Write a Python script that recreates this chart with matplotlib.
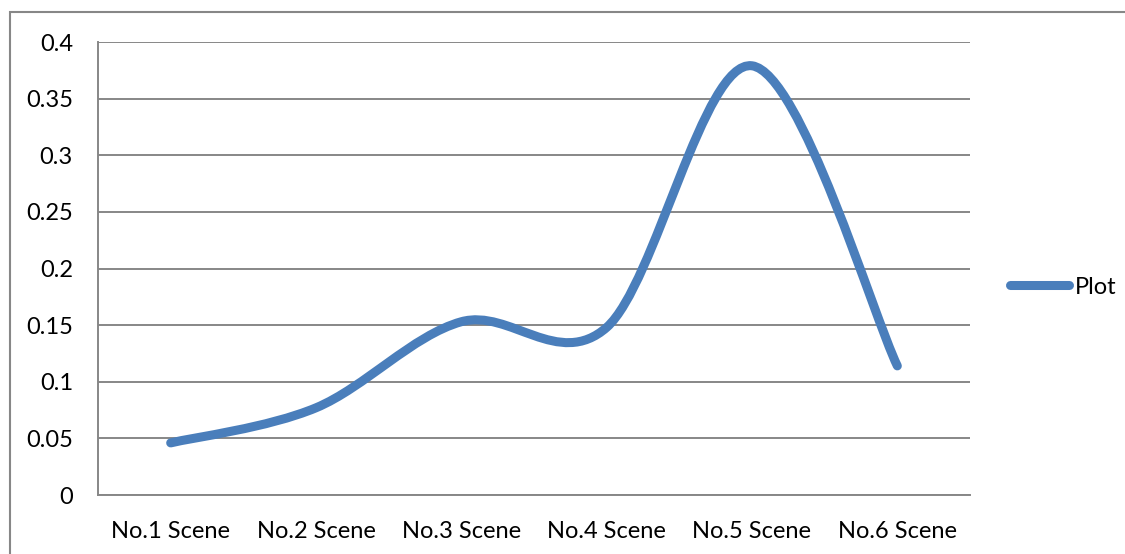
import matplotlib
matplotlib.use('Agg')
import matplotlib.pyplot as plt
import matplotlib.patches as mpatches
from matplotlib.path import Path
from matplotlib.lines import Line2D

plt.rcParams['font.family'] = ['Lato', 'DejaVu Sans']

# ── data ──
scenes = ['No.1 Scene', 'No.2 Scene', 'No.3 Scene', 'No.4 Scene', 'No.5 Scene', 'No.6 Scene']
values = [0.046, 0.077, 0.153, 0.148, 0.379, 0.114]
yticks = [0, 0.05, 0.1, 0.15, 0.2, 0.25, 0.3, 0.35, 0.4]
ytick_labels = ['0', '0.05', '0.1', '0.15', '0.2', '0.25', '0.3', '0.35', '0.4']

BLUE = '#4A7EBB'
GRID = '#878787'

fig = plt.figure(figsize=(11.25, 5.54), dpi=100)
ax = fig.add_axes([98/1125, 59/554, 872/1125, 453/554])

# outer chart border (runs off right/bottom like the screenshot)
fig.patches.append(mpatches.Rectangle((10/1125, -0.05), 1.2, (554-12)/554 + 0.05,
                                      transform=fig.transFigure, fill=False,
                                      edgecolor=GRID, linewidth=1.5))

# smoothed line, excel-style bezier through the points
xs = list(range(len(values)))
pts = list(zip(xs, values))
verts = [pts[0]]
codes = [Path.MOVETO]
for i in range(len(pts) - 1):
    p0 = pts[i - 1] if i > 0 else pts[i]
    p1 = pts[i]
    p2 = pts[i + 1]
    p3 = pts[i + 2] if i + 2 < len(pts) else pts[i + 1]
    c1 = (p1[0] + (p2[0] - p0[0]) / 6, p1[1] + (p2[1] - p0[1]) / 6)
    c2 = (p2[0] - (p3[0] - p1[0]) / 6, p2[1] - (p3[1] - p1[1]) / 6)
    verts += [c1, c2, p2]
    codes += [Path.CURVE4] * 3
curve = mpatches.PathPatch(Path(verts, codes), fill=False, edgecolor=BLUE,
                           linewidth=6.5, capstyle='round', joinstyle='round', zorder=3)
ax.add_patch(curve)

ax.set_xlim(-0.5, len(values) - 0.5)
ax.set_ylim(0, 0.4)
ax.set_xticks(xs)
ax.set_xticklabels(scenes)
ax.set_yticks(yticks)
ax.set_yticklabels(ytick_labels)
ax.tick_params(length=0, labelsize=17)
ax.tick_params(axis='y', pad=18)
ax.tick_params(axis='x', pad=19)
ax.yaxis.grid(True, color=GRID, linewidth=1.4)
ax.set_axisbelow(True)
for s in ['top', 'right']:
    ax.spines[s].set_visible(False)
for s in ['left', 'bottom']:
    ax.spines[s].set_color(GRID)
    ax.spines[s].set_linewidth(1.4)

handle = Line2D([0], [0], color=BLUE, lw=6.5, solid_capstyle='round')
fig.legend([handle], ['Plot'], loc='center left', bbox_to_anchor=(1010/1125, 1 - 287/554),
           frameon=False, fontsize=17, handlelength=2.5, handletextpad=0.25,
           borderaxespad=0, borderpad=0)

fig.savefig('out.png', dpi=100)
